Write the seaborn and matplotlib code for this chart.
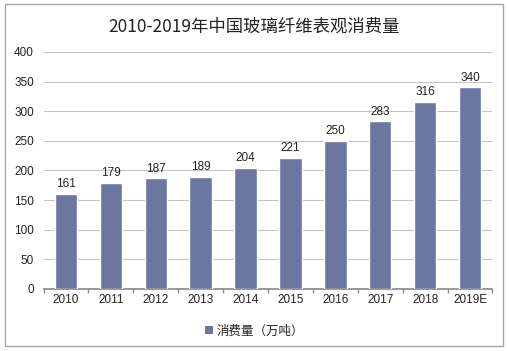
import matplotlib
matplotlib.use("Agg")
import matplotlib.pyplot as plt
import seaborn as sns
import pandas as pd
from matplotlib.patches import Rectangle, Patch

# ─── Data ────────────────────────────────────────────────────────────────────
years = ["2010", "2011", "2012", "2013", "2014", "2015", "2016", "2017", "2018", "2019E"]
consumption = [161, 179, 187, 189, 204, 221, 250, 283, 316, 340]

TITLE = "2010-2019年中国玻璃纤维表观消费量"
SERIES = "消费量（万吨）"
BAR_COLOR = "#6b77a1"

sns.set_theme(style="white")
plt.rcParams["font.family"] = ["Liberation Sans", "Noto Sans CJK SC", "DejaVu Sans"]

df = pd.DataFrame({"year": years, "value": consumption})

fig = plt.figure(figsize=(5.09, 3.51), dpi=100)
ax = fig.add_axes([0.0855, 0.177, 0.882, 0.675])

sns.barplot(data=df, x="year", y="value", color=BAR_COLOR, width=0.5,
            saturation=1, ax=ax, zorder=3)

for i, v in enumerate(consumption):
    ax.text(i, v + 6, str(v), ha="center", va="bottom", fontsize=8.5, color="#222222")

ax.set_ylim(0, 400)
ax.set_xlim(-0.5, len(years) - 0.5)
ax.set_yticks(range(0, 401, 50))
ax.yaxis.grid(True, color="#c4c4c4", linewidth=0.8, zorder=0)
ax.set_xlabel("")
ax.set_ylabel("")
for s in ["top", "right", "left"]:
    ax.spines[s].set_visible(False)
ax.spines["bottom"].set_color("#8c8c8c")
ax.tick_params(axis="y", length=0, labelsize=8.5, labelcolor="#222222", pad=7)
ax.tick_params(axis="x", labelsize=8.5, labelcolor="#222222", pad=4)
ax.set_xticks([i + 0.5 for i in range(-1, len(years))], minor=True)
ax.tick_params(axis="x", which="major", length=0)
ax.tick_params(axis="x", which="minor", bottom=True, length=3, color="#8c8c8c")

fig.text(0.5, 0.925, TITLE, ha="center", va="center", fontsize=12.5,
         family=["Noto Sans CJK SC", "DejaVu Sans"], color="#222222")

handle = Patch(facecolor=BAR_COLOR, edgecolor="none", label=SERIES)
leg = fig.legend(handles=[handle], loc="center", bbox_to_anchor=(0.5, 0.057),
                 frameon=False, handlelength=0.6, handleheight=0.6,
                 handletextpad=0.3, prop={"family": ["Noto Sans CJK SC"], "size": 9})

fig.patches.append(Rectangle((0.01, 0.015), 0.978, 0.975, transform=fig.transFigure,
                             fill=False, edgecolor="#a6a6a6", linewidth=1.0))

fig.savefig("out.png", dpi=100)
